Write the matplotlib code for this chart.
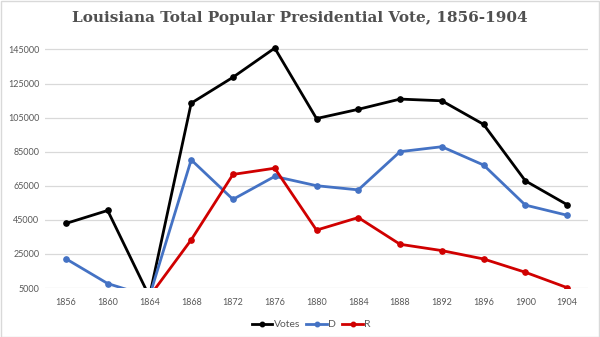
import numpy as np
import matplotlib
matplotlib.use("Agg")
import matplotlib.pyplot as plt

years = ["1856", "1860", "1864", "1868", "1872", "1876", "1880", "1884",
         "1888", "1892", "1896", "1900", "1904"]
votes = [42873, 50510, 0, 113488, 128692, 145823, 104462, 109883,
         115891, 114889, 101046, 67906, 53908]
dem = [22164, 7625, 0, 80225, 57029, 70508, 65047, 62594,
       85032, 87926, 77175, 53671, 47708]
rep = [np.nan, np.nan, 0, 33263, 71663, 75315, 38978, 46347,
       30660, 26963, 22037, 14234, 5205]
yticks = [5000, 25000, 45000, 65000, 85000, 105000, 125000, 145000]

fig = plt.figure(figsize=(6, 3.37), dpi=100)
fig.patch.set_facecolor("white")
ax = fig.add_axes([0.075, 0.1454, 0.905, 0.7229])

x = np.arange(len(years))
ax.plot(x, votes, color="#000000", lw=2.0, marker="o", ms=3.8, label="Votes", zorder=3)
ax.plot(x, dem, color="#4472C4", lw=2.0, marker="o", ms=3.8, label="D", zorder=3)
ax.plot(x, rep, color="#D00000", lw=2.0, marker="o", ms=3.8, label="R", zorder=4)

ax.set_xlim(-0.5, len(years) - 0.5)
ax.set_ylim(5000, 148000)
ax.set_yticks(yticks)
ax.set_yticklabels([str(v) for v in yticks])
ax.set_xticks(x)
ax.set_xticklabels(years)
ax.grid(axis="y", color="#D9D9D9", lw=0.9)
ax.set_axisbelow(True)
for s in ax.spines.values():
    s.set_visible(False)
ax.tick_params(length=0, labelsize=6.5, labelcolor="#595959", pad=7)
for lab in ax.get_xticklabels() + ax.get_yticklabels():
    lab.set_family("Lato")
ax.tick_params(axis="y", pad=4)

fig.text(0.5, 0.948, "Louisiana Total Popular Presidential Vote, 1856-1904",
         ha="center", va="center", fontsize=11, fontweight="bold",
         family="DejaVu Serif", color="#505050")

leg = ax.legend(loc="center", bbox_to_anchor=(0.49, -0.15), ncol=3, frameon=False,
                handlelength=2.0, handletextpad=0.1, columnspacing=0.6,
                markerscale=0.85, prop={"family": "Lato", "size": 7.5})
for t in leg.get_texts():
    t.set_color("#595959")

border = plt.Rectangle((0.001, 0.001), 0.998, 0.997, transform=fig.transFigure,
                       fill=False, edgecolor="#D9D9D9", lw=1)
fig.patches.append(border)

fig.savefig("out.png", dpi=100)
